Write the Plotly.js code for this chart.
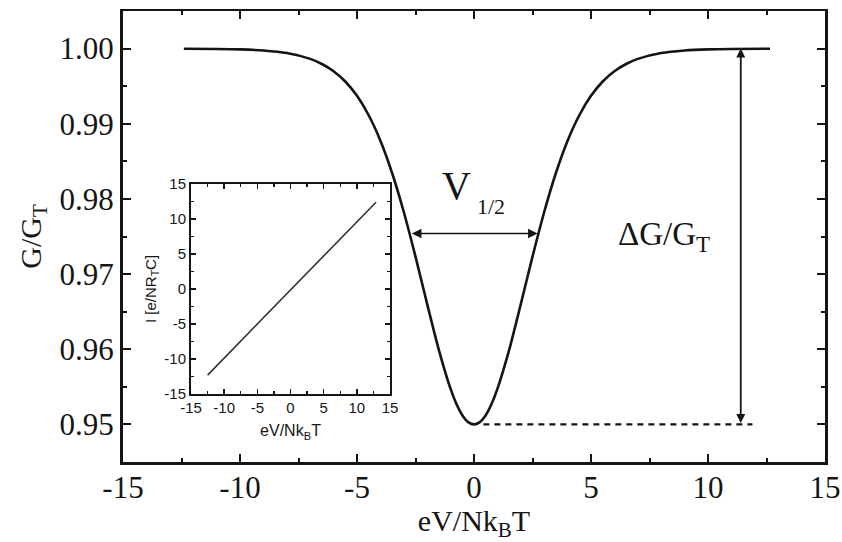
<!DOCTYPE html>
<html>
<head>
<meta charset="utf-8">
<script src="https://cdn.plot.ly/plotly-3.0.1.min.js"></script>
<style>html,body{margin:0;padding:0;background:#fff;}#chart{width:842px;height:542px;}</style>
</head>
<body>
<div id="chart"></div>
<script>
// Main curve: normalised conductance G/G_T versus eV/(N k_B T)
const biasX = [-12.4, -11, -10, -9, -8, -7, -6.5, -6, -5.5, -5, -4.5, -4, -3.5, -3, -2.5, -2, -1.5, -1, -0.75, -0.5, -0.25, 0,
               0.25, 0.5, 0.75, 1, 1.5, 2, 2.5, 3, 3.5, 4, 4.5, 5, 5.5, 6, 6.5, 7, 8, 9, 10, 11, 12.65];
const condY = [0.99998, 0.99995, 0.99989, 0.99974, 0.99940, 0.99863, 0.99795, 0.99699, 0.99562, 0.99371, 0.99113, 0.98775, 0.98345, 0.97826, 0.97232, 0.96600, 0.95989, 0.95472, 0.95271, 0.95123, 0.95031, 0.95000,
               0.95031, 0.95123, 0.95271, 0.95472, 0.95989, 0.96600, 0.97232, 0.97826, 0.98345, 0.98775, 0.99113, 0.99371, 0.99562, 0.99699, 0.99795, 0.99863, 0.99940, 0.99974, 0.99989, 0.99995, 0.99998];

// Inset: current versus voltage
const insetX = [-12.5, 12.9];
const insetY = [-12.3, 12.4];

// Dashed reference line at the minimum
const dashX = [0.4, 11.9];
const dashY = [0.95, 0.95];

// Tick values and labels (hyphen minus as in the original)
const mainXTicks = [-15, -10, -5, 0, 5, 10, 15];
const mainXLabels = ['-15', '-10', '-5', '0', '5', '10', '15'];
const insetTicks = [-15, -10, -5, 0, 5, 10, 15];
const insetLabels = ['-15', '-10', '-5', '0', '5', '10', '15'];

// Annotation anchors
const halfWidthLeft = -2.72, halfWidthRight = 2.72, halfLevel = 0.9754;
const deltaArrowX = 11.4, deltaTop = 1.0, deltaBottom = 0.95;

const serif = 'Liberation Serif, Times New Roman, serif';
const sans = 'Liberation Sans, Arial, sans-serif';
const ink = '#151515';

const traces = [
  {x: biasX, y: condY, type: 'scatter', mode: 'lines', line: {color: ink, width: 2.6, shape: 'spline', smoothing: 0.8}, xaxis: 'x', yaxis: 'y', hoverinfo: 'skip'},
  {x: dashX, y: dashY, type: 'scatter', mode: 'lines', line: {color: ink, width: 2.2, dash: '6px,5px'}, xaxis: 'x', yaxis: 'y', hoverinfo: 'skip'},
  {x: insetX, y: insetY, type: 'scatter', mode: 'lines', line: {color: '#333', width: 1.6}, xaxis: 'x2', yaxis: 'y2', hoverinfo: 'skip'}
];

const layout = {
  width: 842, height: 542,
  margin: {l: 123, r: 17, t: 11, b: 80},
  paper_bgcolor: '#fff', plot_bgcolor: '#fff',
  showlegend: false,
  xaxis: {
    domain: [0, 1], range: [-15, 15], tickmode: 'array', tickvals: mainXTicks, ticktext: mainXLabels,
    ticks: 'inside', ticklen: 8, tickwidth: 2, tickcolor: ink,
    minor: {dtick: 2.5, ticks: 'inside', ticklen: 4, tickwidth: 2, tickcolor: ink},
    showline: true, linewidth: 2.5, linecolor: ink, mirror: 'ticks',
    showgrid: false, zeroline: false,
    tickfont: {family: serif, size: 31, color: ink},
    ticklabelstandoff: -4,
    title: {text: 'eV/Nk<sub>B</sub>T', font: {family: serif, size: 30, color: ink}, standoff: 6}
  },
  yaxis: {
    domain: [0, 1], range: [0.945, 1.005], dtick: 0.01, tick0: 0.95, tickformat: '.2f',
    ticks: 'inside', ticklen: 8, tickwidth: 2, tickcolor: ink,
    minor: {dtick: 0.005, ticks: 'inside', ticklen: 4, tickwidth: 2, tickcolor: ink},
    showline: true, linewidth: 3, linecolor: ink, mirror: 'ticks',
    showgrid: false, zeroline: false,
    tickfont: {family: serif, size: 31, color: ink},
    title: {text: 'G/G<sub>T</sub>', font: {family: serif, size: 30, color: ink}, standoff: 10}
  },
  xaxis2: {
    domain: [0.0969, 0.3803], anchor: 'y2', range: [-15, 15], tickmode: 'array', tickvals: insetTicks, ticktext: insetLabels,
    ticks: 'inside', ticklen: 5, tickwidth: 1.5, tickcolor: ink,
    minor: {dtick: 2.5, ticks: 'inside', ticklen: 3, tickwidth: 1.2, tickcolor: ink},
    showline: true, linewidth: 2, linecolor: ink, mirror: 'ticks',
    showgrid: false, zeroline: false,
    tickfont: {family: sans, size: 15, color: ink},
    ticklabelstandoff: -1,
    title: {text: 'eV/Nk<sub>B</sub>T', font: {family: sans, size: 16, color: ink}, standoff: 10}
  },
  yaxis2: {
    domain: [0.1508, 0.6164], anchor: 'x2', range: [-15, 15], tickmode: 'array', tickvals: insetTicks, ticktext: insetLabels,
    ticks: 'inside', ticklen: 5, tickwidth: 1.5, tickcolor: ink,
    minor: {dtick: 2.5, ticks: 'inside', ticklen: 3, tickwidth: 1.2, tickcolor: ink},
    showline: true, linewidth: 2, linecolor: ink, mirror: 'ticks',
    showgrid: false, zeroline: false,
    tickfont: {family: sans, size: 15, color: ink},
    ticklabelstandoff: 0,
    title: {text: 'I [e/NR<sub>T</sub>C]', font: {family: sans, size: 15, color: ink}, standoff: 4}
  },
  annotations: [
    {xref: 'x', yref: 'y', axref: 'x', ayref: 'y', x: halfWidthRight, y: halfLevel, ax: halfWidthLeft, ay: halfLevel,
     text: '', showarrow: true, arrowside: 'end+start', arrowhead: 2, arrowsize: 1.2, arrowwidth: 1.6, arrowcolor: ink},
    {xref: 'x', yref: 'y', axref: 'x', ayref: 'y', x: deltaArrowX, y: deltaTop, ax: deltaArrowX, ay: deltaBottom,
     text: '', showarrow: true, arrowside: 'end+start', arrowhead: 2, arrowsize: 1.0, arrowwidth: 1.8, arrowcolor: ink},
    {xref: 'x', yref: 'y', x: -0.75, y: 0.9818, text: 'V', showarrow: false,
     font: {family: serif, size: 40, color: ink}, xanchor: 'center', yanchor: 'middle'},
    {xref: 'x', yref: 'y', x: 0.73, y: 0.9790, text: '1/2', showarrow: false,
     font: {family: serif, size: 22, color: ink}, xanchor: 'center', yanchor: 'middle'},
    {xref: 'x', yref: 'y', x: 8.1, y: 0.9750, text: 'ΔG/G<sub>T</sub>', showarrow: false,
     font: {family: serif, size: 33, color: ink}, xanchor: 'center', yanchor: 'middle'}
  ]
};

Plotly.newPlot('chart', traces, layout, {staticPlot: true, displayModeBar: false});
</script>
</body>
</html>
